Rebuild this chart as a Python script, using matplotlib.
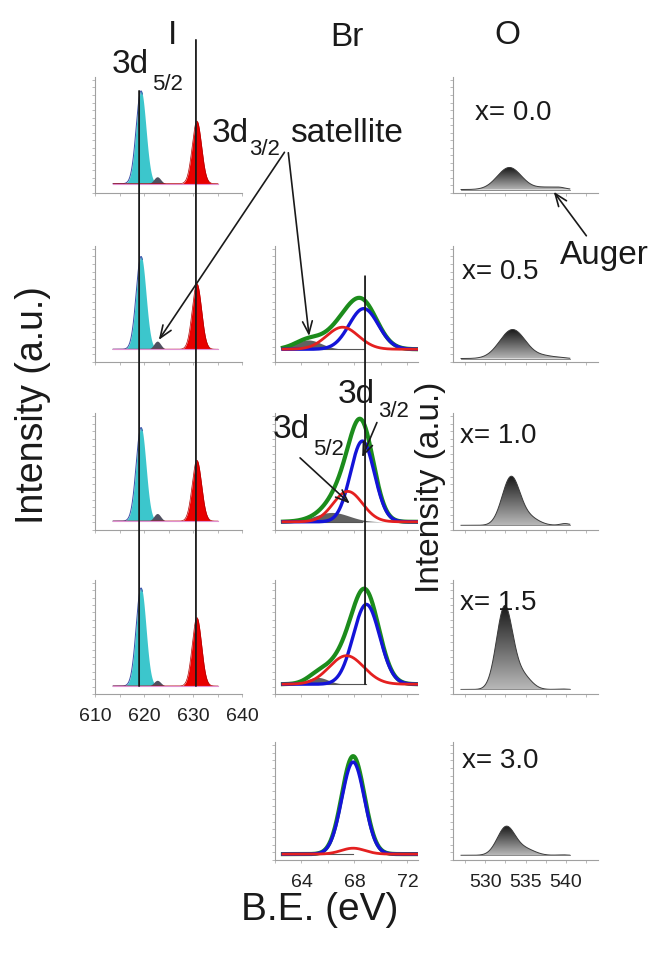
import numpy as np
import matplotlib.pyplot as plt
from matplotlib.colors import LinearSegmentedColormap
from matplotlib.patches import ConnectionPatch

plt.rcParams['font.family'] = ['Liberation Sans', 'DejaVu Sans']

W, H = 663, 956

# I 3d fits, rows x = 0.0, 0.5, 1.0, 1.5
i_base = [0.08, 0.11, 0.076, 0.07]
i_52_pos = 619.4
i_52_amp = [0.80, 0.80, 0.80, 0.86]
i_32_pos = 630.8
i_32_amp = [0.54, 0.565, 0.52, 0.60]
i_sat_pos = 622.7
i_sat_amp = [0.06, 0.07, 0.065, 0.05]
i_sig = [1.0, 0.95, 0.7]          # 5/2, 3/2, satellite
i_range = (613.7, 635.1)

# Br 3d fits, rows x = 0.5, 1.0, 1.5, 3.0
br_base = [0.11, 0.07, 0.086, 0.05]
br_52_pos = [67.1, 67.5, 67.4, 67.9]
br_52_amp = [0.19, 0.26, 0.25, 0.05]
br_52_sig = [1.2, 1.1, 1.3, 0.9]
br_32_pos = [68.7, 68.6, 68.9, 67.9]
br_32_amp = [0.35, 0.69, 0.70, 0.78]
br_32_sig = [1.1, 0.9, 1.0, 0.85]
br_sat_pos = [64.5, 66.3, 65.2, 65.0]
br_sat_amp = [0.08, 0.08, 0.06, 0.0]
br_sat_sig = [1.0, 1.3, 0.8, 1.0]
br_range = (62.6, 72.7)

# O 1s, rows x = 0.0 .. 3.0
o_labels = ['x= 0.0', 'x= 0.5', 'x= 1.0', 'x= 1.5', 'x= 3.0']
o_base = [0.03, 0.03, 0.04, 0.04, 0.04]
o_main_pos = [533.0, 533.4, 533.2, 532.4, 532.6]
o_main_amp = [0.19, 0.25, 0.41, 0.72, 0.24]
o_main_sig = [1.5, 1.6, 1.1, 1.0, 1.1]
o_sh_pos = [537.8, 537.5, 535.5, 534.6, 535.0]
o_sh_amp = [0.02, 0.02, 0.06, 0.12, 0.05]
o_sh_sig = [1.5, 1.3, 1.2, 1.1, 1.2]
o_hi_pos = [539.3, 539.5, 539.9, 539.5, 539.5]
o_hi_amp = [0.008, 0.004, 0.015, 0.004, 0.004]
o_range = (527.0, 540.5)
o_label_pos = [(0.15, 0.69), (0.06, 0.78), (0.05, 0.80), (0.05, 0.80), (0.06, 0.84)]

cols = {'I': (95, 242), 'Br': (275, 418), 'O': (453, 598)}
rows = [(77, 193), (246, 362), (413, 530), (580, 694), (742, 860)]


def gauss(x, c, a, s):
    return a * np.exp(-(x - c) ** 2 / (2 * s ** 2))


def add_panel(col, row):
    l, r = cols[col]
    t, b = rows[row]
    return fig.add_axes([l / W, 1 - b / H, (r - l) / W, (b - t) / H])


def style(ax, xlim, major, minor, labels):
    ax.set_xlim(xlim)
    ax.set_ylim(0, 1)
    ax.patch.set_alpha(0)
    for s in ['top', 'right']:
        ax.spines[s].set_visible(False)
    for s in ['left', 'bottom']:
        ax.spines[s].set_color('#a0a0a0')
        ax.spines[s].set_linewidth(0.8)
    ax.set_yticks([])
    ax.set_yticks(np.arange(0.0, 1.0, 0.065), minor=True)
    ax.set_xticks(major)
    ax.set_xticks(minor, minor=True)
    ax.tick_params(which='both', length=2, width=0.6, color='#b0b0b0',
                   labelsize=14, pad=8, labelcolor='#222222')
    if not labels:
        ax.set_xticklabels([])


def ftext(x, y, s, **kw):
    kw.setdefault('color', '#1a1a1a')
    return fig.text(x / W, 1 - y / H, s, **kw)


fig = plt.figure(figsize=(W / 100, H / 100), dpi=100)

# I column
xi = np.linspace(*i_range, 500)
i_axes = []
for k in range(4):
    ax = add_panel('I', k)
    b = i_base[k]
    y52 = b + gauss(xi, i_52_pos, i_52_amp[k], i_sig[0])
    y32 = b + gauss(xi, i_32_pos, i_32_amp[k], i_sig[1])
    ysat = b + gauss(xi, i_sat_pos, i_sat_amp[k], i_sig[2])
    ax.fill_between(xi, b, y52, where=y52 > b + 0.003, color='#3cc6cc', lw=0)
    ax.plot(xi[xi < i_52_pos + 0.3], y52[xi < i_52_pos + 0.3], color='#3a50a8', lw=0.7)
    ax.fill_between(xi, b, ysat, where=ysat > b + 0.003, color='#505060', lw=0)
    ax.fill_between(xi, b, y32, where=y32 > b + 0.003, color='#e80000', lw=0)
    ax.plot(xi, y32, color='#b00000', lw=0.5)
    ax.plot(xi, np.full_like(xi, b), color='#e090d0', lw=0.8)
    style(ax, (610, 640), [610, 620, 630, 640], np.arange(610, 641, 5), k == 3)
    i_axes.append(ax)

# Br column
xb = np.linspace(*br_range, 500)
br_axes = []
for k in range(4):
    ax = add_panel('Br', k + 1)
    b = br_base[k]
    c52 = gauss(xb, br_52_pos[k], br_52_amp[k], br_52_sig[k])
    c32 = gauss(xb, br_32_pos[k], br_32_amp[k], br_32_sig[k])
    csat = gauss(xb, br_sat_pos[k], br_sat_amp[k], br_sat_sig[k])
    if br_sat_amp[k] > 0:
        ax.fill_between(xb, b, b + csat, color='#505050', lw=0, alpha=0.9)
    ax.plot([xb[0], br_32_pos[k]], [b, b], color='#555555', lw=0.8)
    ax.plot(xb, b + c32 + c52 + csat, color='#1c8c1c', lw=3.0)
    ax.plot(xb, b + c32, color='#1414d8', lw=2.4)
    ax.plot(xb, b + c52, color='#e42020', lw=2.0)
    style(ax, (62, 72.8), [64, 68, 72], np.arange(62, 72.1, 2), k == 3)
    br_axes.append(ax)

# O column
xo = np.linspace(*o_range, 500)
cmap_o = LinearSegmentedColormap.from_list('o1s', ['#b8b8b8', '#161616'])
grad = np.linspace(0, 1, 256).reshape(-1, 1)
o_axes = []
for k in range(5):
    ax = add_panel('O', k)
    b = o_base[k]
    yo = (b + gauss(xo, o_main_pos[k], o_main_amp[k], o_main_sig[k])
          + gauss(xo, o_sh_pos[k], o_sh_amp[k], o_sh_sig[k])
          + gauss(xo, o_hi_pos[k], o_hi_amp[k], 0.6))
    poly = ax.fill_between(xo, b, yo, facecolor='none', edgecolor='none')
    im = ax.imshow(grad, extent=[xo[0], xo[-1], b, yo.max()], origin='lower',
                   aspect='auto', cmap=cmap_o, zorder=2)
    im.set_clip_path(poly.get_paths()[0], transform=ax.transData)
    ax.plot(xo, yo, color='#3a3a3a', lw=0.7, zorder=3)
    ax.plot(xo, np.full_like(xo, b), color='#777777', lw=0.6, zorder=3)
    style(ax, (526, 544), [530, 535, 540], np.arange(527.5, 544, 2.5), k == 4)
    lx, ly = o_label_pos[k]
    ax.text(lx, ly, o_labels[k], transform=ax.transAxes, fontsize=20,
            color='#1a1a1a', va='center', ha='left')
    o_axes.append(ax)

# reference lines across panels
for xv, ytop in [(619.0, 0.88), (630.6, 1.32)]:
    con = ConnectionPatch(xyA=(xv, ytop), coordsA=i_axes[0].transData,
                          xyB=(xv, i_base[3]), coordsB=i_axes[3].transData,
                          color='#1a1a1a', lw=1.3)
    fig.add_artist(con)
con = ConnectionPatch(xyA=(68.8, 0.74), coordsA=br_axes[0].transData,
                      xyB=(68.8, br_base[2]), coordsB=br_axes[2].transData,
                      color='#1a1a1a', lw=1.3)
fig.add_artist(con)

# arrows
arrow = dict(arrowstyle='->, head_length=0.9, head_width=0.35', color='#1a1a1a', lw=1.2)
i_axes[1].annotate('', xy=(i_sat_pos, 0.17), xytext=(286, H - 150),
                   textcoords='figure pixels', arrowprops=arrow, annotation_clip=False)
br_axes[0].annotate('', xy=(64.6, 0.2), xytext=(288, H - 150),
                    textcoords='figure pixels', arrowprops=arrow, annotation_clip=False)
o_axes[0].annotate('', xy=(538.3, 0.03), xytext=(588, H - 238),
                   textcoords='figure pixels', arrowprops=arrow, annotation_clip=False)
br_axes[1].annotate('', xy=(67.8, 0.21), xytext=(298, H - 456),
                    textcoords='figure pixels', arrowprops=arrow, annotation_clip=False)
br_axes[1].annotate('', xy=(68.5, 0.6), xytext=(378, H - 420),
                    textcoords='figure pixels', arrowprops=arrow, annotation_clip=False)

# labels
ftext(172, 35, 'I', fontsize=24, ha='center', va='center')
ftext(347, 38, 'Br', fontsize=24, ha='center', va='center')
ftext(507, 35, 'O', fontsize=24, ha='center', va='center')

ftext(112, 73, '3d', fontsize=24, va='baseline')
ftext(152, 90, '5/2', fontsize=16, va='baseline')
ftext(212, 142, '3d', fontsize=24, va='baseline')
ftext(249, 155, '3/2', fontsize=16, va='baseline')
ftext(290, 142, 'satellite', fontsize=24, va='baseline')
ftext(560, 264, 'Auger', fontsize=24, va='baseline')
ftext(338, 403, '3d', fontsize=24, va='baseline')
ftext(378, 417, '3/2', fontsize=16, va='baseline')
ftext(273, 438, '3d', fontsize=24, va='baseline')
ftext(313, 455, '5/2', fontsize=16, va='baseline')

ftext(33, 405, 'Intensity (a.u.)', fontsize=27, rotation=90, ha='center', va='center')
ftext(430, 487, 'Intensity (a.u.)', fontsize=24, rotation=90, ha='center', va='center')
ftext(320, 910, 'B.E. (eV)', fontsize=28, ha='center', va='center')

fig.savefig('out.png', dpi=100)
